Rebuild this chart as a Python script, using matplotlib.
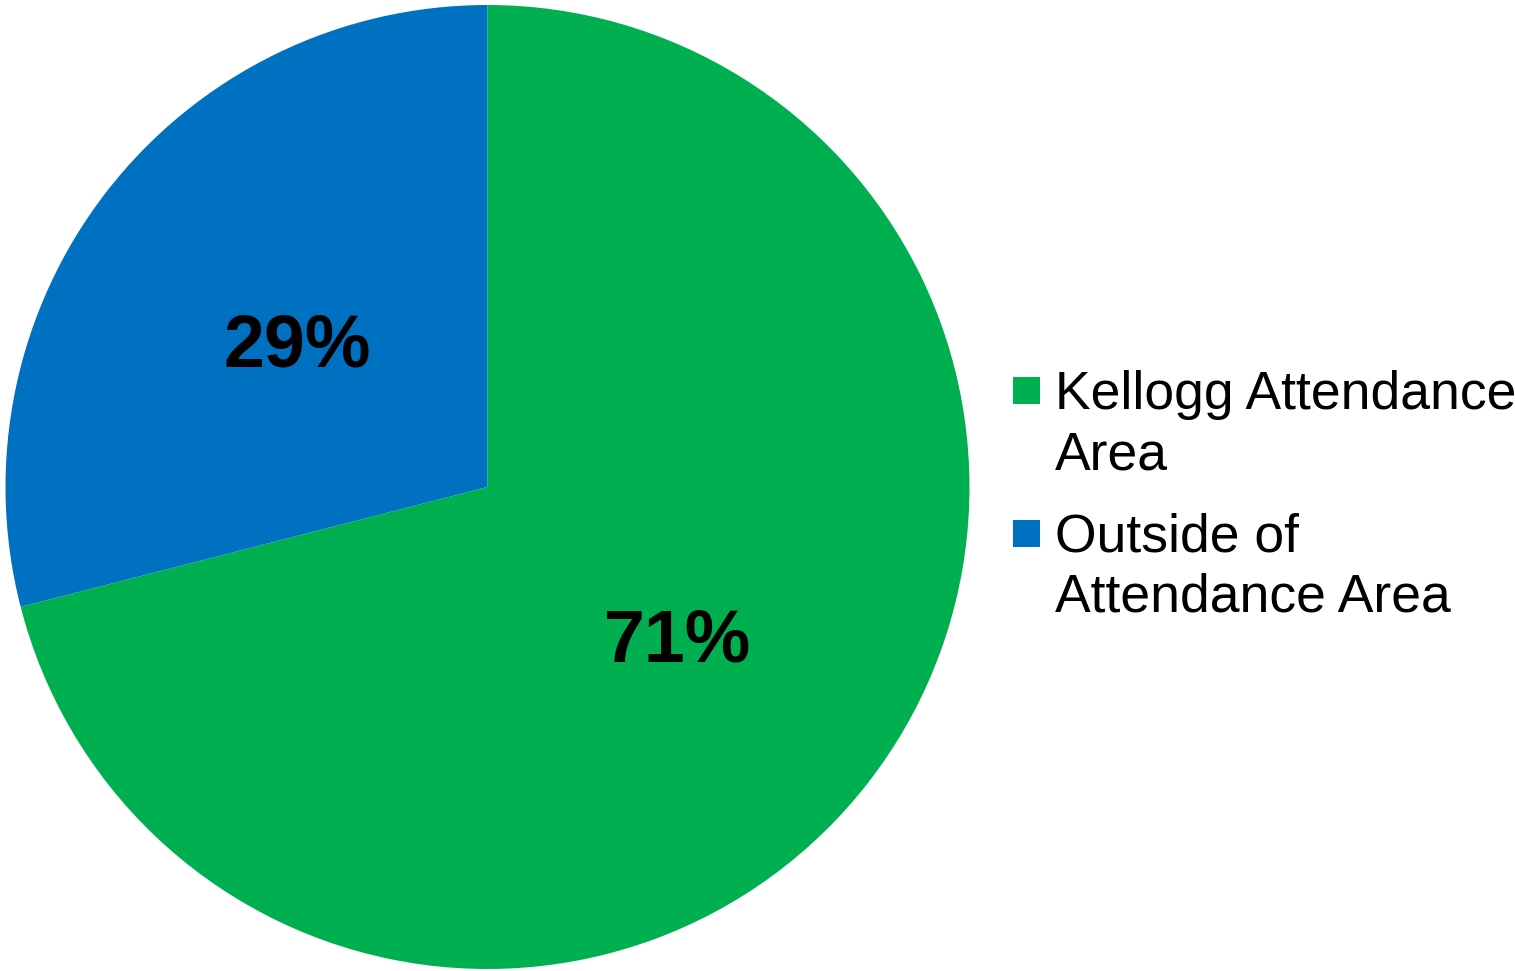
import matplotlib
matplotlib.use("Agg")
import matplotlib.pyplot as plt
from matplotlib.patches import Rectangle

labels = ["Kellogg Attendance\nArea", "Outside of\nAttendance Area"]
values = [71, 29]
colors = ["#00B050", "#0070C0"]

W, H = 1515, 971
fig = plt.figure(figsize=(W / 100, H / 100), dpi=100)
plt.rcParams['font.family'] = ['Liberation Sans', 'DejaVu Sans']

ax = fig.add_axes([5.5 / W, 2 / H, 964 / W, 964 / H])
wedges, texts, autotexts = ax.pie(
    values, colors=colors, startangle=90, counterclock=False,
    autopct=lambda p: f"{p:.0f}%", pctdistance=0.5,
    wedgeprops=dict(linewidth=0),
    textprops=dict(fontsize=53, fontweight='bold', color='black'))
for t in autotexts:
    t.set_va('center_baseline')
ax.set_aspect('equal')
ax.set_xlim(-1, 1)
ax.set_ylim(-1, 1)
ax.axis('off')

# legend (manual, handle aligned with first line)
entry_tops = [409, 552]  # baseline of first line, px from top
line_gap = 60
for lab, col, base in zip(labels, colors, entry_tops):
    sq_top = base - 32
    fig.patches.append(Rectangle((1013 / W, 1 - (sq_top + 27) / H), 27 / W, 27 / H,
                                 transform=fig.transFigure, facecolor=col,
                                 edgecolor='none'))
    for i, line in enumerate(lab.split("\n")):
        fig.text(1055 / W, 1 - (base + i * line_gap) / H, line, fontsize=38.5,
                 ha='left', va='baseline', color='black')

fig.savefig("out.png", dpi=100, facecolor='white')
